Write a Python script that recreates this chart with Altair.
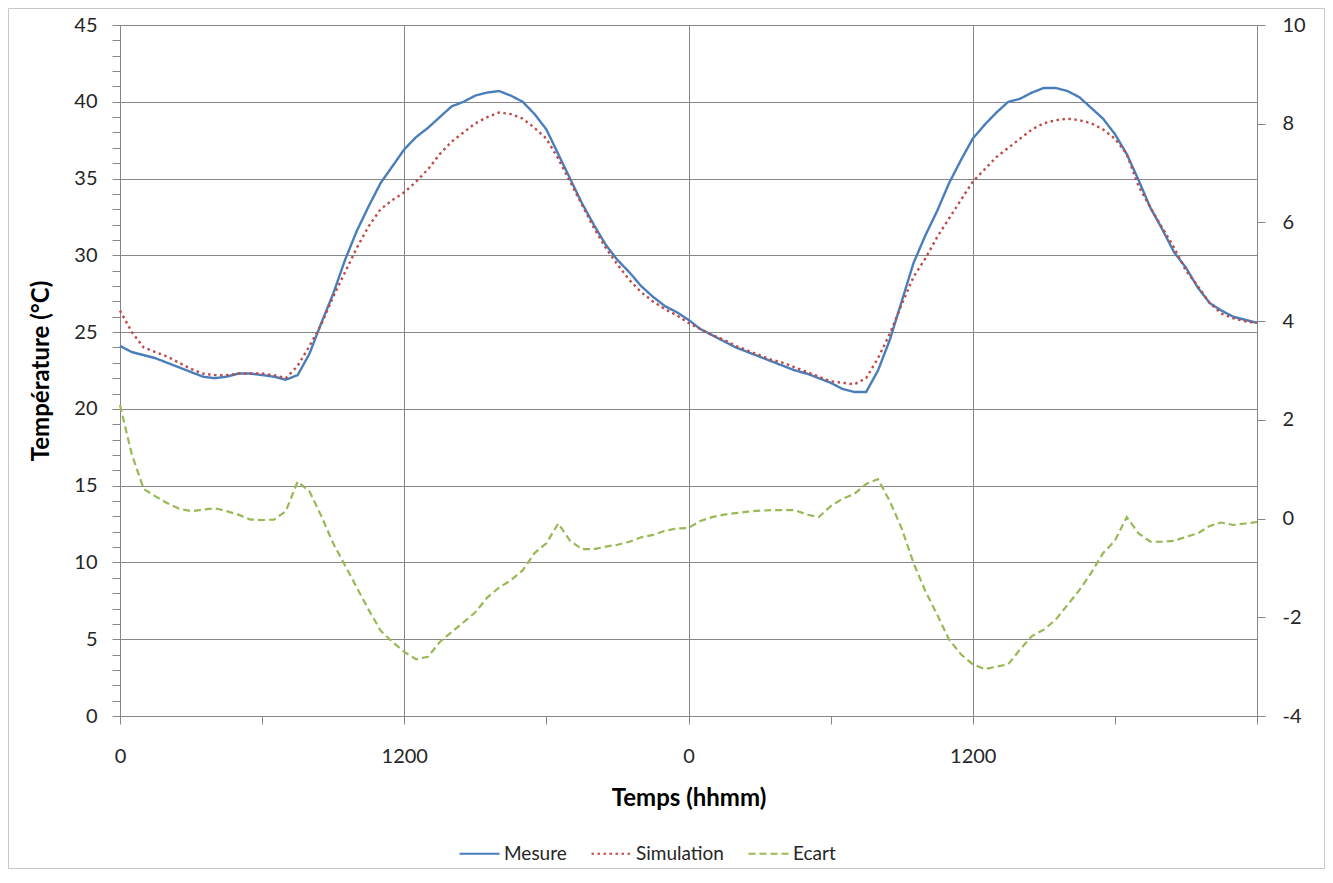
import altair as alt
import pandas as pd

# time grid: half-hour steps over two days (0 .. 48 h)
hours = [i * 0.5 for i in range(97)]

mesure = [
    24.1, 23.7, 23.5, 23.3, 23.0, 22.7, 22.4, 22.1, 22.0, 22.1,
    22.3, 22.3, 22.2, 22.1, 21.9, 22.2, 23.6, 25.6, 27.5, 29.7,
    31.6, 33.2, 34.7, 35.8, 36.9, 37.7, 38.3, 39.0, 39.7, 40.0,
    40.4, 40.6, 40.7, 40.4, 40.0, 39.2, 38.2, 36.6, 35.0, 33.4,
    32.0, 30.7, 29.7, 28.9, 28.0, 27.3, 26.7, 26.3, 25.8, 25.2,
    24.8, 24.4, 24.0, 23.7, 23.4, 23.1, 22.8, 22.5, 22.3, 22.0,
    21.7, 21.3, 21.1, 21.1, 22.5, 24.5, 27.0, 29.5, 31.3, 32.9,
    34.7, 36.2, 37.6, 38.5, 39.3, 40.0, 40.2, 40.6, 40.9, 40.9,
    40.7, 40.3, 39.6, 38.9, 37.9, 36.6, 34.9, 33.1, 31.7, 30.2,
    29.2, 27.9, 26.9, 26.4, 26.0, 25.8, 25.6,
]

simulation = [
    26.4, 25.0, 24.0, 23.7, 23.4, 23.0, 22.6, 22.3, 22.2, 22.2,
    22.3, 22.3, 22.3, 22.2, 22.0, 22.8, 24.1, 25.5, 27.3, 28.9,
    30.5, 31.9, 33.0, 33.6, 34.1, 34.8, 35.6, 36.6, 37.4, 38.0,
    38.6, 39.0, 39.3, 39.2, 38.9, 38.3, 37.6, 36.3, 34.8, 33.3,
    31.8, 30.5, 29.4, 28.4, 27.6, 27.0, 26.5, 26.1, 25.6, 25.2,
    24.8, 24.5, 24.1, 23.8, 23.5, 23.2, 23.0, 22.7, 22.4, 22.1,
    21.8, 21.7, 21.6, 22.0, 23.3, 24.9, 26.8, 28.6, 29.8, 31.2,
    32.4, 33.6, 34.8, 35.6, 36.4, 37.0, 37.6, 38.2, 38.6, 38.8,
    38.9, 38.8, 38.6, 38.2, 37.6, 36.6, 34.5, 33.1, 31.8, 30.5,
    29.0, 28.0, 26.9, 26.2, 25.9, 25.7, 25.6,
]

ecart = [
    2.3, 1.3, 0.6, 0.45, 0.31, 0.2, 0.15, 0.18, 0.21, 0.15,
    0.08, -0.02, -0.03, -0.02, 0.15, 0.75, 0.55, 0.05, -0.5, -0.95,
    -1.4, -1.85, -2.27, -2.5, -2.7, -2.85, -2.8, -2.5, -2.3, -2.1,
    -1.9, -1.6, -1.4, -1.25, -1.05, -0.7, -0.5, -0.1, -0.45, -0.62,
    -0.62, -0.57, -0.53, -0.47, -0.38, -0.33, -0.25, -0.2, -0.19, -0.05,
    0.03, 0.08, 0.11, 0.14, 0.16, 0.17, 0.17, 0.17, 0.08, 0.03,
    0.25, 0.4, 0.5, 0.7, 0.8, 0.35, -0.2, -0.9, -1.47, -1.95,
    -2.45, -2.75, -2.95, -3.05, -3.0, -2.95, -2.65, -2.38, -2.25, -2.05,
    -1.75, -1.45, -1.1, -0.7, -0.45, 0.03, -0.3, -0.47, -0.47, -0.45,
    -0.37, -0.3, -0.15, -0.08, -0.13, -0.1, -0.07,
]

series = ["Mesure", "Simulation", "Ecart"]
colors = ["#4A7EBB", "#BE4B48", "#98B954"]
dashes = [[1, 0], [2.5, 3.5], [7, 4]]

temp_df = pd.DataFrame({
    "h": hours + hours,
    "v": mesure + simulation,
    "serie": ["Mesure"] * len(hours) + ["Simulation"] * len(hours),
})
ecart_df = pd.DataFrame({"h": hours, "v": ecart, "serie": ["Ecart"] * len(hours)})

FONT = "Lato"
GRID = "#878787"

legend = alt.Legend(
    title=None, orient="none", legendX=338, legendY=807, direction="horizontal",
    symbolType="stroke", symbolSize=1600, symbolStrokeWidth=2.2,
    labelFont=FONT, labelFontSize=19, labelColor="#262626", labelOffset=3,
    columnPadding=20, padding=0,
)
color_enc = alt.Color("serie:N", scale=alt.Scale(domain=series, range=colors), legend=legend)
dash_enc = alt.StrokeDash("serie:N", scale=alt.Scale(domain=series, range=dashes), legend=legend)

x_enc = alt.X(
    "h:Q",
    scale=alt.Scale(domain=[0, 48], nice=False, zero=False),
    axis=alt.Axis(
        values=list(range(0, 49, 6)),
        labelExpr="datum.value % 24 == 0 && datum.value < 48 ? '0' : (datum.value % 24 == 12 ? '1200' : '')",
        grid=True,
        gridOpacity={"condition": {"test": "datum.value % 12 == 0 && datum.value > 0 && datum.value < 48", "value": 1}, "value": 0},
        tickSize=8, labelPadding=22, labelFontSize=20, labelFlush=False,
        title="Temps (hhmm)", titleFontSize=24, titleFontWeight="bold", titlePadding=20,
    ),
)

temp = alt.Chart(temp_df).mark_line(strokeWidth=2.4).encode(
    x=x_enc,
    y=alt.Y(
        "v:Q",
        scale=alt.Scale(domain=[0, 45], nice=False, zero=False),
        axis=alt.Axis(
            values=list(range(0, 46)),
            labelExpr="datum.value % 5 == 0 ? datum.value : ''",
            grid=True,
            gridOpacity={"condition": {"test": "datum.value % 5 == 0", "value": 1}, "value": 0},
            tickSize=8, labelPadding=15, labelFontSize=20,
            title="Température (°C)", titleFontSize=24, titleFontWeight="bold", titlePadding=20,
        ),
    ),
    color=color_enc,
    strokeDash=dash_enc,
    order=alt.Order("h:Q"),
)

ec = alt.Chart(ecart_df).mark_line(strokeWidth=2.2).encode(
    x=x_enc,
    y=alt.Y(
        "v:Q",
        scale=alt.Scale(domain=[-4, 10], nice=False, zero=False),
        axis=alt.Axis(
            orient="right", values=list(range(-4, 11, 2)), grid=False,
            labelExpr="'' + datum.value",
            tickSize=8, labelPadding=17, labelFontSize=20, title=None,
        ),
    ),
    color=color_enc,
    strokeDash=dash_enc,
    order=alt.Order("h:Q"),
)

frame = alt.Chart(pd.DataFrame({"a": [0]})).mark_rect(
    fill=None, stroke="#c8c8c8", strokeWidth=1
).encode(
    x=alt.value(-111.5), x2=alt.value(1204.5), y=alt.value(-16.5), y2=alt.value(843.5)
)

chart = (
    alt.layer(frame, temp, ec)
    .resolve_scale(y="independent")
    .properties(
        width=1137, height=691,
        autosize=alt.AutoSizeParams(type="none"),
        padding={"left": 112, "top": 17, "right": 68, "bottom": 154},
        background="white",
    )
    .configure_view(stroke=None)
    .configure_axis(
        labelFont=FONT, titleFont=FONT, labelColor="#262626", titleColor="#000000",
        domainColor=GRID, tickColor=GRID, gridColor=GRID, gridWidth=1, domainWidth=1,
    )
)

chart.save("out.html", embed_options={"renderer": "svg", "actions": False})
